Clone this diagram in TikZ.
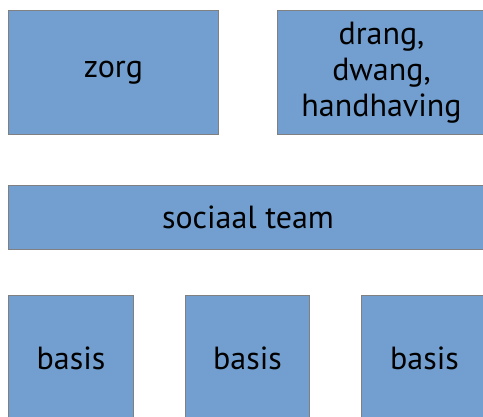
\documentclass[tikz,border=0pt]{standalone}
\usepackage{fontspec}
\setmainfont{PT Sans}
\definecolor{boxfill}{RGB}{114,159,207}
\definecolor{boxline}{RGB}{128,128,128}
\tikzset{
  blok/.style={draw=boxline, line width=1pt, fill=boxfill, inner sep=0pt,
    align=center, font=\fontsize{32}{36}\selectfont, anchor=north west}
}
\begin{document}
\begin{tikzpicture}[x=1pt,y=-1pt]
\useasboundingbox (0,0) rectangle (483,417);
\clip (0,0) rectangle (483,417);
\node[blok, minimum width=210pt, minimum height=124pt] (zorg) at (8,10) {zorg};
\node[blok, minimum width=208pt, minimum height=124pt] (drang) at (277,10) {drang,\\dwang,\\handhaving};
\node[blok, minimum width=479pt, minimum height=64pt] (team) at (8,185) {sociaal team};
\node[blok, minimum width=125pt, minimum height=126pt] (basisA) at (8,295) {basis};
\node[blok, minimum width=124pt, minimum height=126pt] (basisB) at (185,295) {basis};
\node[blok, minimum width=126pt, minimum height=126pt] (basisC) at (361,295) {basis};
\end{tikzpicture}
\end{document}
